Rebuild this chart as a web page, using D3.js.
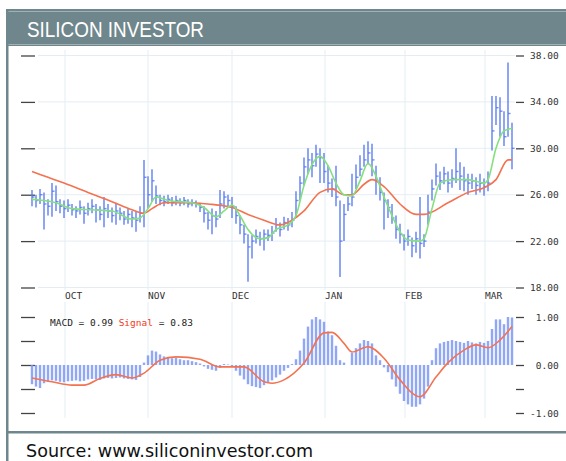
<!DOCTYPE html>
<html><head><meta charset="utf-8">
<script src="https://cdn.jsdelivr.net/npm/d3@7"></script>
<style>
html,body{margin:0;padding:0;background:#fff;}
svg{display:block;}
</style></head>
<body><svg id="c" width="566" height="461"></svg>
<script>
// ---------- data ----------
const closeP = [25.8,25.5,26.0,25.2,25.0,26.3,25.4,25.0,24.8,25.1,24.7,24.6,24.9,24.4,24.8,25.0,24.7,24.3,24.8,24.6,
24.2,24.6,24.4,23.9,24.3,24.0,23.8,24.4,27.5,26.0,27.2,25.9,25.5,25.4,25.6,25.3,25.5,25.3,25.5,25.2,
25.3,25.2,24.9,24.4,23.8,24.2,23.9,25.2,25.8,25.5,25.0,24.2,23.4,22.6,21.5,22.0,22.4,22.2,22.6,22.5,
22.7,23.4,23.0,23.6,23.4,23.8,25.5,27.0,28.4,29.0,28.5,29.5,29.2,28.0,27.0,26.5,25.8,22.0,24.3,25.2,
25.8,27.5,28.2,29.0,29.6,29.0,27.2,26.2,25.5,24.9,24.0,23.0,22.6,22.0,22.4,21.6,22.2,21.8,22.0,24.5,
26.5,27.6,27.2,27.8,27.0,27.4,28.0,27.6,27.2,27.0,27.2,26.8,27.0,26.7,27.0,31.5,33.5,33.2,31.0,33.0,30.0];
const highP = [26.4,26.0,26.5,26.2,25.6,27.0,26.8,25.6,25.5,25.6,25.2,25.0,25.5,25.0,25.3,25.6,25.2,25.0,25.8,25.2,
24.9,25.3,24.9,24.6,24.8,24.6,24.5,25.0,29.0,27.6,28.2,26.8,26.0,25.9,26.0,25.8,25.9,25.7,25.8,25.6,
25.6,25.5,25.3,25.0,24.5,24.8,24.6,26.4,26.3,26.0,25.8,25.0,24.2,23.4,22.6,22.5,23.0,22.8,23.0,23.0,
23.3,24.0,23.6,24.1,24.0,24.5,26.3,27.6,29.2,30.0,29.6,30.3,30.0,29.6,28.5,27.4,28.5,25.5,25.2,25.8,
27.8,28.6,29.4,30.3,30.6,30.4,28.5,27.5,26.2,25.6,25.2,24.2,23.5,22.6,23.0,22.3,22.8,25.8,22.6,26.0,
27.3,28.7,28.0,28.4,28.0,28.2,30.0,28.8,28.4,27.8,27.8,27.5,27.8,27.4,28.0,34.5,34.5,34.4,33.2,37.4,32.2];
const lowP = [25.0,24.9,25.2,23.0,24.2,24.1,24.6,24.4,24.0,24.5,24.2,24.0,24.3,23.5,24.2,24.4,23.6,23.8,23.2,24.0,
23.6,23.4,23.8,23.4,23.5,23.2,22.8,23.6,23.2,24.8,25.4,25.2,25.1,25.0,25.2,25.0,25.1,25.0,25.1,24.9,
25.0,24.9,24.5,23.6,23.0,22.6,23.2,24.0,24.8,25.0,24.0,23.5,22.6,21.8,18.5,20.5,21.8,21.6,21.2,22.0,
22.0,22.8,22.4,23.0,22.9,23.2,24.0,25.5,26.8,27.8,27.5,28.4,27.0,27.0,26.2,25.8,25.0,18.9,22.0,24.6,
25.0,26.5,27.6,28.4,28.6,27.6,26.0,25.5,23.0,24.0,23.5,22.2,21.8,21.2,21.6,20.6,21.0,20.5,21.5,23.4,
25.5,26.8,26.4,26.9,26.2,26.6,27.0,26.4,26.3,26.0,26.5,26.0,26.2,25.9,26.3,29.8,32.0,31.0,30.2,31.0,28.2];
// short moving average (green) : [bar index, value]
const fastMA = [[0,25.6],[3,25.5],[6,25.3],[10,24.8],[15,24.7],[20,24.6],[25,23.9],[27,24.0],[29,24.8],[31,25.8],
[34,25.5],[40,25.3],[43,24.9],[46,24.1],[48,24.6],[50,25.1],[52,24.2],[54,23.0],[57,22.2],[59,22.3],[61,23.0],
[64,23.4],[66,24.2],[68,26.8],[70,28.6],[72,29.3],[74,28.5],[76,27.0],[78,26.0],[80,25.9],[82,27.2],[84,28.7],
[86,27.6],[88,25.8],[90,24.2],[92,22.8],[94,22.1],[97,22.0],[98,22.2],[100,24.8],[102,27.0],[105,27.3],
[109,27.3],[113,27.0],[114,27.3],[116,30.0],[118,31.5],[120,31.7]];
// long moving average (red)
const slowMA = [[0,28.0],[4,27.5],[8,27.0],[14,26.2],[20,25.4],[25,24.7],[28,24.4],[30,24.8],[33,25.3],[38,25.3],
[44,25.2],[50,24.9],[54,24.3],[58,23.8],[62,23.4],[65,23.8],[68,24.6],[72,26.2],[75,26.5],[78,26.0],[80,26.0],
[83,26.9],[85,27.3],[88,26.7],[92,25.2],[96,24.3],[98,24.3],[104,25.3],[109,26.2],[113,26.6],[116,27.3],
[119,29.0],[120,29.0]];
const macd = [-0.40,-0.45,-0.48,-0.38,-0.34,-0.32,-0.33,-0.35,-0.36,-0.34,-0.33,-0.32,-0.34,-0.33,-0.30,-0.29,-0.30,-0.31,-0.28,-0.27,
-0.28,-0.27,-0.26,-0.28,-0.29,-0.30,-0.31,-0.25,0.05,0.20,0.30,0.28,0.22,0.18,0.16,0.14,0.15,0.12,0.10,0.10,
0.08,0.06,0.03,-0.03,-0.08,-0.10,-0.12,-0.06,0.02,0.01,-0.04,-0.12,-0.22,-0.30,-0.40,-0.44,-0.46,-0.48,-0.42,-0.36,
-0.32,-0.26,-0.20,-0.12,-0.06,0.02,0.12,0.30,0.55,0.80,0.95,1.00,0.95,0.90,0.70,0.62,0.40,0.10,0.05,0.00,
0.25,0.35,0.45,0.52,0.50,0.45,0.20,0.10,-0.05,-0.15,-0.30,-0.45,-0.60,-0.75,-0.82,-0.87,-0.87,-0.82,-0.70,-0.45,
0.10,0.35,0.45,0.48,0.50,0.52,0.50,0.48,0.46,0.50,0.47,0.45,0.48,0.46,0.50,0.75,0.95,0.95,0.85,1.00,0.99];
const signal = [[0,-0.27],[5,-0.35],[10,-0.42],[13,-0.42],[17,-0.28],[21,-0.2],[25,-0.27],[28,-0.17],[32,0.1],
[36,0.17],[42,0.12],[47,-0.04],[53,-0.04],[58,-0.35],[60,-0.38],[63,-0.31],[68,0.04],[73,0.67],[75,0.68],
[78,0.45],[80,0.27],[84,0.38],[88,0.14],[92,-0.31],[97,-0.66],[101,-0.25],[104,0.05],[108,0.31],[111,0.42],
[114,0.36],[117,0.52],[120,0.8]];
const monthLabels = ["OCT","NOV","DEC","JAN","FEB","MAR"];
const monthIdx = [8.25,29,50,73.25,93.25,113.25];
const priceTicks = [18,22,26,30,34,38];
const macdTicks = [-1,-0.5,0,0.5,1];
const titleText = "SILICON INVESTOR";
const sourceText = "Source: www.siliconinvestor.com";
const macdLast = "0.99", signalLast = "0.83";

// ---------- drawing ----------
const svg = d3.select("#c");
const frame = "#6f878c";
const x = d3.scaleLinear().domain([0,120]).range([32,512]);
const yP = d3.scaleLinear().domain([18,38]).range([287.5,55.5]);
const yM = d3.scaleLinear().domain([-1,1]).range([413,317]);

// frame and title bar
svg.append("rect").attr("x",6).attr("y",9).attr("width",560).attr("height",37).attr("fill",frame);
svg.append("line").attr("x1",8).attr("x2",566).attr("y1",11.5).attr("y2",11.5).attr("stroke","#9fb1b5").attr("stroke-width",1);
svg.append("line").attr("x1",8).attr("x2",566).attr("y1",44.5).attr("y2",44.5).attr("stroke","#9fb1b5").attr("stroke-width",1);
svg.append("rect").attr("x",6).attr("y",9).attr("width",2.5).attr("height",452).attr("fill",frame);
svg.append("rect").attr("x",6).attr("y",431).attr("width",560).attr("height",2.5).attr("fill",frame);
svg.append("text").attr("x",27).attr("y",37.3).text(titleText)
  .attr("font-family","'Liberation Sans',Arial,sans-serif")
  .attr("font-size",21.5).attr("fill","#fff")
  .attr("textLength",177).attr("lengthAdjust","spacingAndGlyphs");
svg.append("text").attr("x",26).attr("y",457).text(sourceText)
  .attr("font-family","'DejaVu Sans',sans-serif").attr("font-size",18).attr("fill","#111")
  .attr("textLength",287).attr("lengthAdjust","spacingAndGlyphs");

// grid
const grid = "#e4edf4";
const g = svg.append("g");
g.selectAll("line.hg").data(priceTicks).join("line").attr("class","hg")
  .attr("x1",38).attr("x2",515).attr("y1",d=>yP(d)).attr("y2",d=>yP(d))
  .attr("stroke",grid).attr("stroke-width",1);
g.selectAll("line.vg").data(monthIdx).join("line").attr("class","vg")
  .attr("x1",d=>x(d)).attr("x2",d=>x(d)).attr("y1",50).attr("y2",290)
  .attr("stroke",grid).attr("stroke-width",1);
g.selectAll("line.vg2").data(monthIdx).join("line").attr("class","vg2")
  .attr("x1",d=>x(d)).attr("x2",d=>x(d)).attr("y1",302).attr("y2",418)
  .attr("stroke",grid).attr("stroke-width",1);

// axes
const axCol = "#444";
function styleAxis(sel){
  sel.select(".domain").remove();
  sel.selectAll("line").attr("stroke",axCol).attr("stroke-width",1.3);
  sel.selectAll("text").attr("fill","#333").attr("font-family","'DejaVu Sans Mono',monospace")
     .attr("font-size",9.5).style("white-space","pre");
}
svg.append("g").attr("transform","translate(516,0)")
  .call(d3.axisRight(yP).tickValues(priceTicks).tickSize(8).tickPadding(6).tickFormat(d=>d.toFixed(2)))
  .call(styleAxis);
svg.append("g").attr("transform","translate(35,0)")
  .call(d3.axisLeft(yP).tickValues(priceTicks).tickSize(14).tickFormat(""))
  .call(styleAxis);
svg.append("g").attr("transform","translate(516,0)")
  .call(d3.axisRight(yM).tickValues(macdTicks).tickSize(8).tickPadding(6)
    .tickFormat(d=> d%1!==0 ? "" : (d<0 ? d.toFixed(2) : "\u00a0"+d.toFixed(2))))
  .call(styleAxis);
svg.append("g").attr("transform","translate(35,0)")
  .call(d3.axisLeft(yM).tickValues(macdTicks).tickSize(14).tickFormat(""))
  .call(styleAxis);

// month labels
svg.selectAll("text.mon").data(monthLabels).join("text").attr("class","mon")
  .attr("x",(d,i)=>x(monthIdx[i])).attr("y",299).text(d=>d)
  .attr("font-family","'DejaVu Sans Mono',monospace").attr("font-size",9.5).attr("fill","#333");

// price bars
const bars = d3.range(closeP.length);
const barCol = "#5b7cf3";
svg.append("g").selectAll("line").data(bars).join("line")
  .attr("x1",i=>x(i)).attr("x2",i=>x(i)).attr("y1",i=>yP(highP[i])).attr("y2",i=>yP(lowP[i]))
  .attr("stroke",barCol).attr("stroke-width",1.6).attr("opacity",0.85);
svg.append("g").selectAll("line").data(bars).join("line")
  .attr("x1",i=>x(i)).attr("x2",i=>x(i)+2.5).attr("y1",i=>yP(closeP[i])).attr("y2",i=>yP(closeP[i]))
  .attr("stroke",barCol).attr("stroke-width",1.4).attr("opacity",0.85);

const lineP = d3.line().x(d=>x(d[0])).y(d=>yP(d[1])).curve(d3.curveMonotoneX);
svg.append("path").attr("d",lineP(slowMA)).attr("fill","none").attr("stroke","#f4724f").attr("stroke-width",1.6);
svg.append("path").attr("d",lineP(fastMA)).attr("fill","none").attr("stroke","#84e07c").attr("stroke-width",1.6);

// MACD
svg.append("g").selectAll("rect").data(bars).join("rect")
  .attr("x",i=>x(i)-1.2).attr("width",2.4)
  .attr("y",i=>Math.min(yM(macd[i]),yM(0))).attr("height",i=>Math.abs(yM(macd[i])-yM(0)))
  .attr("fill","#7d96f6").attr("opacity",0.85);
const lineM = d3.line().x(d=>x(d[0])).y(d=>yM(d[1])).curve(d3.curveMonotoneX);
svg.append("path").attr("d",lineM(signal)).attr("fill","none").attr("stroke","#f4724f").attr("stroke-width",1.6);

// legend
const lg = svg.append("text").attr("x",50).attr("y",326)
  .attr("font-family","'DejaVu Sans Mono',monospace").attr("font-size",9.5).style("white-space","pre");
lg.append("tspan").attr("fill","#222").text("MACD = "+macdLast+" ");
lg.append("tspan").attr("fill","#f03a1a").text("Signal");
lg.append("tspan").attr("fill","#222").text(" = "+signalLast);
</script></body></html>
